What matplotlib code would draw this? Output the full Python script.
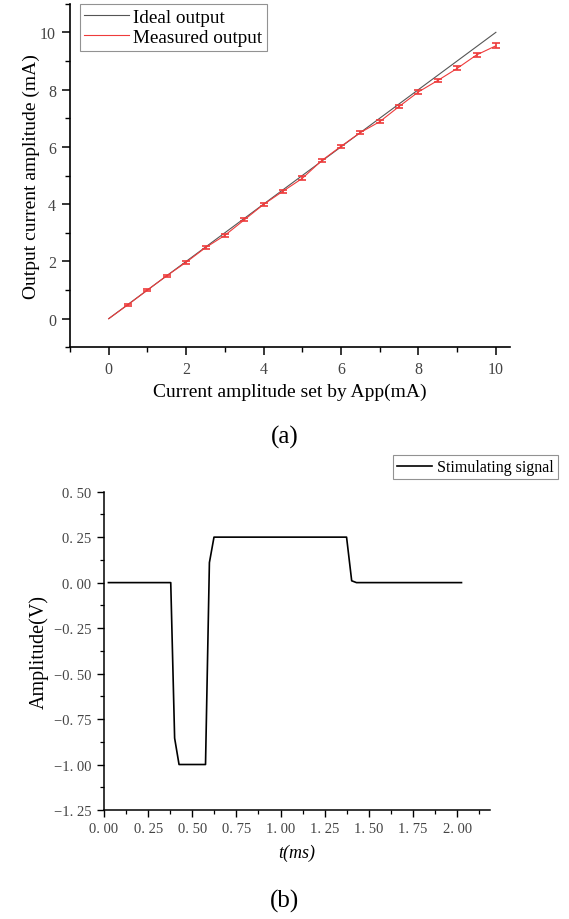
import matplotlib
matplotlib.use('Agg')
import matplotlib.pyplot as plt
from matplotlib.ticker import MultipleLocator, FuncFormatter
from matplotlib.lines import Line2D
import numpy as np

plt.rcParams['font.family'] = ['Liberation Serif', 'DejaVu Serif']
plt.rcParams['mathtext.default'] = 'regular'

# (a) output current vs set current
ideal_x = [0, 10]
ideal_y = [0, 10]
set_current = [0, 0.5, 1, 1.5, 2, 2.5, 3, 3.5, 4, 4.5, 5, 5.5, 6, 6.5, 7,
               7.5, 8, 8.5, 9, 9.5, 10]
measured = [0, 0.49, 1.0, 1.5, 1.97, 2.48, 2.91, 3.45, 3.99, 4.45, 4.9, 5.52,
            6.02, 6.5, 6.88, 7.41, 7.92, 8.32, 8.74, 9.21, 9.53]
measured_err = [0, 0.04, 0.04, 0.04, 0.06, 0.05, 0.06, 0.05, 0.05, 0.05, 0.07,
                0.05, 0.05, 0.04, 0.06, 0.06, 0.06, 0.06, 0.07, 0.08, 0.08]

# (b) stimulating signal
t_ms = [0.025, 0.378, 0.400, 0.425, 0.575, 0.597, 0.623, 1.374, 1.403, 1.43, 2.025]
amp_v = [0, 0, -0.855, -1.0, -1.0, 0.11, 0.25, 0.25, 0.01, 0, 0]

red = '#ee3b3b'
gray = '#555555'
tick_col = '#444444'

fig = plt.figure(figsize=(5.69, 9.2), dpi=100)

ax1 = fig.add_axes([0.123, 0.6214, 0.773, 0.3735])
ax1.plot(ideal_x, ideal_y, color=gray, lw=0.8, zorder=2)
ax1.plot(set_current, measured, color=red, lw=0.8, zorder=3)
# error bars only where an error was measured
xe = [x for x, e in zip(set_current, measured_err) if e > 0]
ye = [y for y, e in zip(measured, measured_err) if e > 0]
ee = [e for e in measured_err if e > 0]
ax1.errorbar(xe, ye, yerr=ee, fmt='none', ecolor=red, elinewidth=1.2,
             capsize=3, capthick=1.2, zorder=4)
ax1.set_xlim(-1, 10.36)
ax1.set_ylim(-1, 11)
ax1.set_xticks([0, 2, 4, 6, 8, 10])
ax1.set_yticks([0, 2, 4, 6, 8, 10])
ax1.xaxis.set_minor_locator(MultipleLocator(1))
ax1.yaxis.set_minor_locator(MultipleLocator(1))
for s in ['top', 'right']:
    ax1.spines[s].set_visible(False)
for s in ['left', 'bottom']:
    ax1.spines[s].set_linewidth(1.2)
ax1.tick_params(which='major', direction='out', length=6, width=1.1,
                labelsize=11.5, labelcolor=tick_col, pad=4)
ax1.tick_params(which='minor', direction='out', length=3.5, width=1.0)
ax1.set_xlabel('Current amplitude set by App(mA)', fontsize=14, labelpad=4)
ax1.set_ylabel('Output current amplitude (mA)', fontsize=14, labelpad=0)
handles1 = [Line2D([], [], color=gray, lw=0.8), Line2D([], [], color=red, lw=0.8)]
leg1 = ax1.legend(handles1, ['Ideal output', 'Measured output'], loc='upper left',
                  bbox_to_anchor=(0.022, 1.0), fontsize=13.8,
                  frameon=True, fancybox=False, edgecolor='#777777',
                  handlelength=2.3, handletextpad=0.25, borderpad=0.25,
                  labelspacing=0.15, borderaxespad=0.0)
leg1.get_frame().set_linewidth(0.8)
fig.text(0.5, 0.524, '(a)', ha='center', va='center', fontsize=18)

ax2 = fig.add_axes([0.1828, 0.1185, 0.6782, 0.346])
ax2.plot(t_ms, amp_v, color='black', lw=1.2)
ax2.set_xlim(0, 2.186)
ax2.set_ylim(-1.25, 0.5)
ax2.set_xticks(np.arange(0, 2.01, 0.25))
ax2.xaxis.set_minor_locator(MultipleLocator(0.125))
ax2.yaxis.set_major_locator(MultipleLocator(0.25))
ax2.yaxis.set_minor_locator(MultipleLocator(0.125))
fmt = FuncFormatter(lambda v, p: ('%.2f' % v).replace('.', '. ').replace('-', '\u2212'))
ax2.xaxis.set_major_formatter(fmt)
ax2.yaxis.set_major_formatter(fmt)
for s in ['top', 'right']:
    ax2.spines[s].set_visible(False)
for s in ['left', 'bottom']:
    ax2.spines[s].set_linewidth(1.1)
ax2.tick_params(which='major', direction='out', length=5, width=1.0,
                labelsize=10.5, labelcolor=tick_col, pad=4)
ax2.tick_params(which='minor', direction='out', length=3, width=0.9)
ax2.set_xlabel('t(ms)', fontsize=13, style='italic', labelpad=6)
ax2.set_ylabel('Amplitude(V)', fontsize=14.5, labelpad=4)
leg2 = ax2.legend([Line2D([], [], color='black', lw=1.2)], ['Stimulating signal'],
                  loc='upper right', bbox_to_anchor=(0.98, 0.504),
                  bbox_transform=fig.transFigure, fontsize=11.5,
                  frameon=True, fancybox=False, edgecolor='#777777',
                  handlelength=2.2, handletextpad=0.3, borderpad=0.25,
                  borderaxespad=0.0)
leg2.get_frame().set_linewidth(0.8)
fig.text(0.5, 0.02, '(b)', ha='center', va='center', fontsize=18)

fig.savefig('out.png', dpi=100)
